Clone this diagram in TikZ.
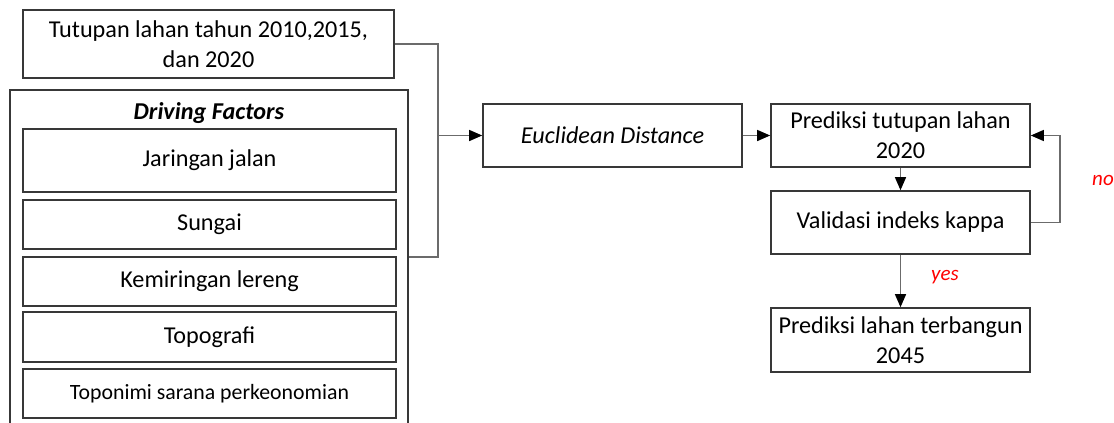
\documentclass[tikz,border=0pt]{standalone}
\usepackage{fontspec}
\setmainfont{Carlito}
\usetikzlibrary{arrows.meta}
\tikzset{
  box/.style={draw=black!78, line width=1.6pt, fill=white, inner sep=0pt, align=center,
    font=\fontsize{24.2}{30}\selectfont},
  conn/.style={draw=black!58, line width=1.3pt},
  arr/.style={conn, -{Triangle[length=13pt, width=11pt, color=black]}},
  note/.style={text=red, font=\fontsize{21}{25}\selectfont\itshape},
}
\begin{document}
\begin{tikzpicture}[x=1pt, y=-1pt]
\useasboundingbox (0,0) rectangle (1114,423);
\clip (0,0) rectangle (1114,423);

% input land cover
\node[box, minimum width=371pt, minimum height=68pt] (tut) at (208.5,44)
  {Tutupan lahan tahun 2010,2015,\\dan 2020};

% driving factors group
\node[box, minimum width=398pt, minimum height=350pt] (df) at (209,265) {};
\node[font=\fontsize{24.2}{30}\selectfont\bfseries\itshape] (dft) at (209,113) {Driving Factors};
\node[box, minimum width=373pt, minimum height=63pt] (jal) at (209.5,160.5) {Jaringan jalan};
\node[box, minimum width=373pt, minimum height=49pt] (sun) at (209.5,224.5) {Sungai};
\node[box, minimum width=373pt, minimum height=49pt] (kem) at (209.5,281.5) {Kemiringan lereng};
\node[box, minimum width=373pt, minimum height=50pt] (top) at (209.5,337) {Topografi};
\node[box, minimum width=373pt, minimum height=49pt, font=\fontsize{21.8}{26}\selectfont] (ton) at (209.5,393.5) {Toponimi sarana perkeonomian};

% process chain
\node[box, minimum width=259pt, minimum height=63pt, font=\fontsize{24.2}{30}\selectfont\itshape] (euc) at (612.5,135.5) {Euclidean Distance};
\node[box, minimum width=259pt, minimum height=63pt] (pred) at (900.5,135.5) {Prediksi tutupan lahan\\2020};
\node[box, minimum width=259pt, minimum height=63pt] (val) at (900.5,222.5) {Validasi indeks kappa};
\node[box, minimum width=259pt, minimum height=64pt] (ter) at (900.5,340) {Prediksi lahan terbangun\\2045};

% joining bracket
\coordinate (jn) at (438,257);
\draw[conn] (tut.east) -| (jn) -- (df.east |- jn);
\draw[arr] (jn |- euc.west) -- (euc.west);
\draw[arr] (euc.east) -- (pred.west);
\draw[arr] (pred.south) -- (val.north);
\draw[arr] (val.south) -- (ter.north);

% feedback loop
\coordinate (lp) at (1060,135.5);
\draw[arr] (val.east) -| (lp) -- (pred.east);

\node[note] (yes) at (945,277) {yes};
\node[note] (no) at (1103,180) {no};
\end{tikzpicture}
\end{document}
